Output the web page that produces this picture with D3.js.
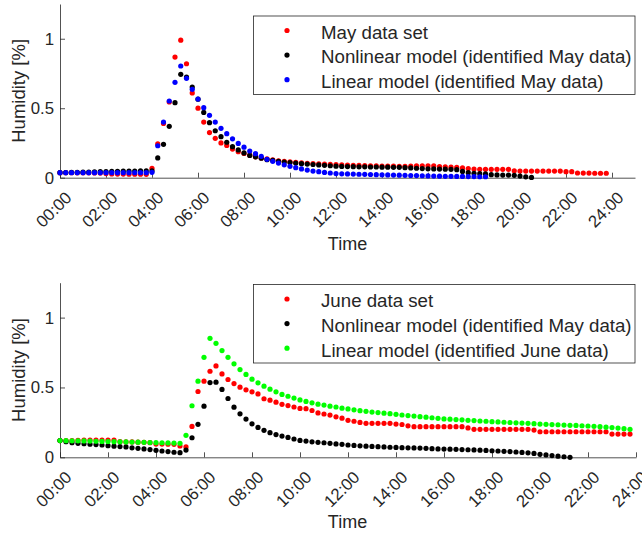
<!DOCTYPE html>
<html>
<head>
<meta charset="utf-8">
<script src="https://cdn.jsdelivr.net/npm/d3@7"></script>
<style>
body { margin: 0; background: #fff; }
text { font-family: "Liberation Sans", Arial, sans-serif; fill: #262626; }
</style>
</head>
<body>
<div id="chart"></div>
<script>
// samples every 15 minutes
var stepHours = 0.25;

var tickHours = [0, 2, 4, 6, 8, 10, 12, 14, 16, 18, 20, 22, 24];
var tickLabels = ["00:00", "02:00", "04:00", "06:00", "08:00", "10:00", "12:00",
                  "14:00", "16:00", "18:00", "20:00", "22:00", "24:00"];
var yTicks = [0, 0.5, 1];

// top panel: May
var mayData = [0.036,0.036,0.036,0.035,0.035,0.035,0.034,0.033,
  0.030,0.027,0.026,0.026,0.025,0.025,0.025,0.024,
  0.068,0.243,0.390,0.545,0.868,0.990,0.820,0.610,
  0.500,0.400,0.325,0.283,0.250,0.232,0.206,0.187,
  0.175,0.162,0.150,0.142,0.135,0.128,0.122,0.118,
  0.114,0.110,0.107,0.104,0.102,0.100,0.098,0.096,
  0.094,0.092,0.090,0.089,0.088,0.087,0.086,0.085,
  0.084,0.083,0.083,0.082,0.082,0.083,0.085,0.086,
  0.086,0.085,0.080,0.078,0.076,0.074,0.070,0.066,
  0.062,0.060,0.060,0.060,0.060,0.060,0.060,0.050,
  0.048,0.048,0.048,0.048,0.048,0.048,0.048,0.048,
  0.043,0.043,0.034,0.033,0.033,0.032,0.032,0.032];
var nonlinMay = [0.036,0.037,0.038,0.039,0.040,0.041,0.042,0.043,
  0.044,0.045,0.046,0.047,0.048,0.048,0.049,0.049,
  0.050,0.142,0.240,0.370,0.540,0.744,0.724,0.652,
  0.565,0.470,0.396,0.338,0.295,0.255,0.223,0.200,
  0.178,0.160,0.150,0.140,0.130,0.124,0.118,0.113,
  0.109,0.105,0.101,0.098,0.095,0.092,0.089,0.086,
  0.083,0.081,0.080,0.079,0.078,0.078,0.077,0.077,
  0.076,0.076,0.075,0.075,0.072,0.070,0.068,0.066,
  0.064,0.063,0.062,0.061,0.060,0.058,0.045,0.036,
  0.032,0.029,0.027,0.022,0.020,0.019,0.019,0.017,
  0.012,0.006,0.002];
var linMay = [0.036,0.036,0.036,0.036,0.036,0.036,0.036,0.036,
  0.036,0.036,0.036,0.036,0.036,0.036,0.036,0.036,
  0.039,0.230,0.400,0.552,0.686,0.804,0.715,0.636,
  0.566,0.504,0.449,0.400,0.355,0.317,0.280,0.247,
  0.220,0.192,0.173,0.154,0.132,0.118,0.105,0.093,
  0.082,0.072,0.063,0.055,0.048,0.043,0.038,0.034,
  0.030,0.028,0.027,0.026,0.025,0.024,0.023,0.022,
  0.021,0.020,0.019,0.018,0.017,0.016,0.015,0.014,
  0.013,0.012,0.011,0.010,0.010,0.009,0.009,0.008,
  0.008,0.007,0.007];

// bottom panel: June
var juneData = [0.120,0.120,0.120,0.121,0.124,0.124,0.124,0.124,
  0.124,0.124,0.112,0.110,0.110,0.108,0.107,0.105,
  0.095,0.095,0.094,0.093,0.081,0.074,0.221,0.471,
  0.545,0.616,0.654,0.597,0.557,0.528,0.502,0.483,
  0.469,0.454,0.419,0.409,0.395,0.379,0.370,0.360,
  0.350,0.348,0.335,0.318,0.310,0.302,0.290,0.280,
  0.265,0.258,0.250,0.243,0.243,0.243,0.243,0.243,
  0.238,0.235,0.225,0.219,0.219,0.219,0.219,0.219,
  0.219,0.219,0.219,0.219,0.210,0.200,0.200,0.200,
  0.200,0.200,0.200,0.200,0.200,0.200,0.200,0.195,
  0.183,0.183,0.183,0.183,0.183,0.183,0.183,0.183,
  0.183,0.183,0.183,0.183,0.166,0.166,0.166,0.166];
var nonlinJune = [0.120,0.112,0.105,0.100,0.097,0.094,0.091,0.088,
  0.083,0.080,0.077,0.074,0.068,0.064,0.060,0.055,
  0.050,0.045,0.041,0.036,0.033,0.052,0.140,0.236,
  0.366,0.535,0.538,0.486,0.421,0.359,0.311,0.274,
  0.240,0.214,0.193,0.176,0.163,0.152,0.142,0.131,
  0.121,0.116,0.111,0.107,0.104,0.100,0.096,0.093,
  0.088,0.085,0.082,0.080,0.078,0.076,0.074,0.072,
  0.071,0.069,0.068,0.067,0.066,0.064,0.062,0.060,
  0.059,0.058,0.057,0.055,0.054,0.053,0.051,0.049,
  0.047,0.045,0.043,0.041,0.038,0.035,0.032,0.028,
  0.021,0.017,0.012,0.008,0.004,0.000];
var linJune = [0.120,0.119,0.118,0.118,0.117,0.116,0.115,0.114,
  0.113,0.112,0.111,0.110,0.109,0.108,0.107,0.106,
  0.105,0.104,0.103,0.102,0.100,0.157,0.369,0.545,
  0.716,0.852,0.816,0.764,0.716,0.669,0.628,0.593,
  0.559,0.533,0.509,0.488,0.469,0.450,0.437,0.424,
  0.411,0.400,0.390,0.380,0.374,0.366,0.360,0.352,
  0.346,0.340,0.334,0.329,0.324,0.320,0.316,0.312,
  0.308,0.303,0.299,0.295,0.291,0.287,0.283,0.279,
  0.275,0.273,0.270,0.268,0.265,0.263,0.260,0.258,
  0.255,0.253,0.251,0.249,0.247,0.245,0.243,0.241,
  0.238,0.236,0.234,0.233,0.231,0.229,0.228,0.226,
  0.224,0.222,0.219,0.216,0.213,0.209,0.205,0.200];

var axisColor = "#262626";

var svg = d3.select("#chart")
  .append("svg")
  .attr("width", 642)
  .attr("height", 535);

var panels = [
  { top: 4, bottom: 177.7, xMax: 25, right: 635, labelY: 250, legendTop: 16,
    series: [
      { name: "May data set", values: mayData, color: "#ff0000" },
      { name: "Nonlinear model (identified May data)", values: nonlinMay, color: "#000000" },
      { name: "Linear model (identified May data)", values: linMay, color: "#0000ff" }
    ] },
  { top: 282.7, bottom: 457.3, xMax: 24, right: 636, labelY: 528, legendTop: 284.5,
    series: [
      { name: "June data set", values: juneData, color: "#ff0000" },
      { name: "Nonlinear model (identified May data)", values: nonlinJune, color: "#000000" },
      { name: "Linear model (identified June data)", values: linJune, color: "#00ff00" }
    ] }
];

panels.forEach(function(p) {
  var x = d3.scaleLinear().domain([0, p.xMax]).range([60, p.right]);
  var y = d3.scaleLinear().domain([0, 1.25]).range([p.bottom, p.top]);

  // X axis, ticks pointing inward, rotated labels
  var gx = svg.append("g")
    .attr("transform", "translate(0," + p.bottom + ")")
    .call(d3.axisBottom(x)
      .tickValues(tickHours)
      .tickFormat(function(d, i) { return tickLabels[i]; })
      .tickSizeInner(-5)
      .tickSizeOuter(0));
  gx.selectAll("text")
    .attr("y", null)
    .attr("dy", "0.35em")
    .attr("transform", "translate(8,17) rotate(-45)")
    .style("text-anchor", "end")
    .style("font-size", "16.8px")
    .style("font-family", null);

  // Y axis
  var gy = svg.append("g")
    .attr("transform", "translate(60,0)")
    .call(d3.axisLeft(y)
      .tickValues(yTicks)
      .tickFormat(d3.format(""))
      .tickSizeInner(-5)
      .tickSizeOuter(0));
  gy.selectAll("text")
    .attr("x", -6)
    .style("font-size", "16.8px")
    .style("font-family", null);

  svg.selectAll(".domain, .tick line")
    .attr("stroke", axisColor)
    .attr("stroke-width", 0.8);

  // axis titles
  svg.append("text")
    .attr("x", 347.5)
    .attr("y", p.labelY)
    .attr("text-anchor", "middle")
    .style("font-size", "18px")
    .text("Time");

  svg.append("text")
    .attr("transform", "translate(25," + ((p.top + p.bottom) / 2) + ") rotate(-90)")
    .attr("text-anchor", "middle")
    .style("font-size", "18.5px")
    .text("Humidity [%]");

  // dots, drawn in legend order
  p.series.forEach(function(s) {
    svg.append("g")
      .selectAll("circle")
      .data(s.values)
      .enter()
      .append("circle")
      .attr("cx", function(d, i) { return x(i * stepHours); })
      .attr("cy", function(d) { return y(d); })
      .attr("r", 2.6)
      .attr("fill", s.color);
  });

  // legend
  var lg = svg.append("g").attr("transform", "translate(0," + p.legendTop + ")");
  lg.append("rect")
    .attr("x", 253.5)
    .attr("y", 0)
    .attr("width", 381.5)
    .attr("height", 78.5)
    .attr("fill", "#fff")
    .attr("stroke", axisColor)
    .attr("stroke-width", 0.8);
  var rows = lg.selectAll(".row")
    .data(p.series)
    .enter()
    .append("g")
    .attr("transform", function(d, i) { return "translate(0," + (14.5 + i * 24.6) + ")"; });
  rows.append("circle")
    .attr("cx", 287)
    .attr("cy", 0)
    .attr("r", 2.6)
    .attr("fill", function(d) { return d.color; });
  rows.append("text")
    .attr("x", 321)
    .attr("y", 8.3)
    .style("font-size", "18.7px")
    .text(function(d) { return d.name; });
});
</script>
</body>
</html>
